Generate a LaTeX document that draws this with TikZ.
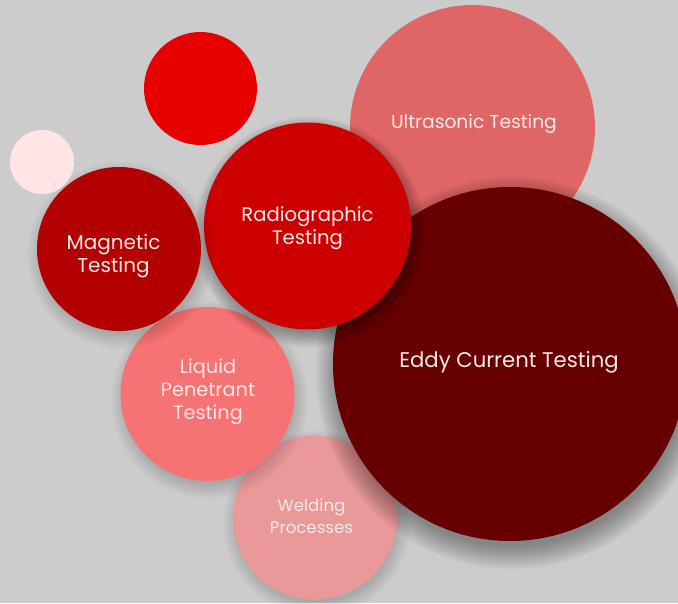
\documentclass[tikz,border=0pt]{standalone}
\usepackage{fontspec}
\setmainfont{Poppins}
\begin{document}
\begin{tikzpicture}[x=1pt,y=-1pt,
  bubble/.style={circle,inner sep=0pt,outer sep=0pt,draw=none},
  lbl/.style={text=txt,align=center,inner sep=0pt}]
\definecolor{bg}{HTML}{CCCCCC}
\definecolor{txt}{HTML}{FFE8E8}
\definecolor{cRed}{HTML}{E80000}
\definecolor{cPink}{HTML}{FFE5E5}
\definecolor{cMag}{HTML}{B30000}
\definecolor{cRad}{HTML}{CC0000}
\definecolor{cUltra}{HTML}{E06666}
\definecolor{cEddy}{HTML}{660000}
\definecolor{cLiq}{HTML}{F77272}
\definecolor{cWeld}{HTML}{EA9999}
\clip (0,0) rectangle (678,603);
\fill[bg] (0,0) rectangle (678,603);
\newcommand{\softshadow}[6]{% x y r opacity dy step
  \foreach \k in {1,...,12}{\fill[black,opacity=#4] (#1+2,#2+#5) circle[radius={#3-5+\k*#6}];}}
% Ultrasonic
\node[bubble,fill=cUltra,minimum size=245pt] (ultra) at (472.5,127.5) {};
% Welding
\softshadow{315}{517.5}{82}{0.012}{6}{1.4}
\node[bubble,fill=cWeld,minimum size=164pt] (weld) at (315,517.5) {};
% Liquid
\softshadow{207.5}{394}{87}{0.012}{6}{1.4}
\node[bubble,fill=cLiq,minimum size=174pt] (liq) at (207.5,394) {};
% Eddy
\softshadow{510}{364}{177}{0.032}{9}{2}
\node[bubble,fill=cEddy,minimum size=354pt] (eddy) at (510,364) {};
% Radiographic
\softshadow{307.5}{226}{103.5}{0.03}{6}{1.4}
\node[bubble,fill=cRad,minimum size=207pt] (rad) at (307.5,226) {};
% Magnetic
\softshadow{119}{249}{82}{0.012}{6}{1.4}
\node[bubble,fill=cMag,minimum size=164pt] (mag) at (119,249) {};
% small circles
\node[bubble,fill=cRed,minimum size=113pt] (red) at (200.5,88.5) {};
\node[bubble,fill=cPink,minimum size=64pt] (pink) at (42,162) {};
% labels
\node[lbl,font={\fontsize{18.7}{23}\selectfont}] (ultra-t) at (474,123.5) {Ultrasonic Testing};
\node[lbl,font={\fontsize{21.2}{25}\selectfont}] (eddy-t) at (509,362) {Eddy Current Testing};
\node[lbl,font={\fontsize{19.6}{23}\selectfont}] (rad-t) at (307.5,228) {Radiographic\\Testing};
\node[lbl,font={\fontsize{20}{23}\selectfont}] (mag-t) at (113.5,256) {Magnetic\\Testing};
\node[lbl,font={\fontsize{19.3}{23}\selectfont}] (liq-t) at (208,392) {Liquid\\Penetrant\\Testing};
\node[lbl,font={\fontsize{16.6}{22}\selectfont}] (weld-t) at (311.5,516.5) {Welding\\Processes};
\end{tikzpicture}
\end{document}
